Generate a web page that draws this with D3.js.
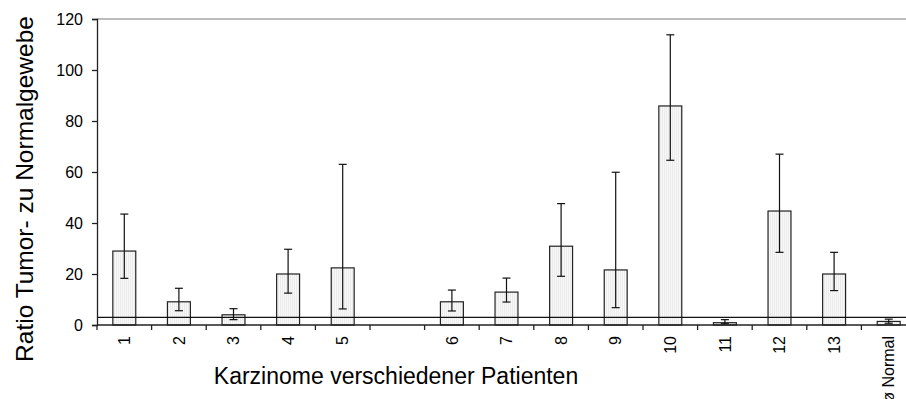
<!DOCTYPE html>
<html>
<head>
  <meta charset="utf-8">
  <title>Ratio Tumor- zu Normalgewebe</title>
  <script src="https://d3js.org/d3.v7.min.js"></script>
  <style>
    body { margin: 0; background: #fff; }
    text { font-family: "Liberation Sans", Arial, sans-serif; fill: #000; }
  </style>
</head>
<body>
  <script>
    // data ("" = empty slot between 5 and 6)
    var categories = ['1','2','3','4','5','','6','7','8','9','10','11','12','13','ø Normal'];
    var values   = [29, 9.1, 4.0, 20, 22.4, null, 9.1, 12.9, 30.9, 21.6, 85.9, 0.9, 44.7, 20, 1.4];
    var errHigh  = [43.5, 14.4, 6.4, 29.7, 63, null, 13.7, 18.4, 47.6, 59.9, 113.8, 2.1, 67, 28.5, 2.3];
    var errLow   = [18.3, 5.6, 2.1, 12.5, 6.3, null, 5.5, 9.0, 19.1, 6.8, 64.6, 0.5, 28.5, 13.5, 0.7];
    var yTicks   = [0, 20, 40, 60, 80, 100, 120];
    var refLine  = 3;

    var width = 906, height = 399;
    var plotLeft = 97, plotTop = 19, plotBottom = 325;
    var step = 54.6;
    var plotRight = plotLeft + step * categories.length;

    var svg = d3.select('body').append('svg')
      .attr('width', width)
      .attr('height', height);

    // fill of the bars: fine vertical stripes
    var pat = svg.append('defs').append('pattern')
      .attr('id', 'stripes')
      .attr('patternUnits', 'userSpaceOnUse')
      .attr('width', 2).attr('height', 4);
    pat.append('rect').attr('width', 2).attr('height', 4).attr('fill', '#f8f8f8');
    pat.append('rect').attr('width', 1).attr('height', 4).attr('fill', '#ebebeb');

    var x = d3.scaleBand()
      .domain(d3.range(categories.length))
      .range([plotLeft, plotRight])
      .paddingInner(0.58)
      .paddingOuter(0.29);

    var y = d3.scaleLinear()
      .domain([0, 120])
      .range([plotBottom, plotTop]);

    // top gridline
    svg.append('line')
      .attr('x1', plotLeft).attr('x2', plotRight)
      .attr('y1', y(120)).attr('y2', y(120))
      .attr('stroke', '#a6a6a6').attr('stroke-width', 1.3);

    var idx = d3.range(categories.length).filter(i => values[i] != null);

    // bars
    svg.selectAll('rect.bar')
      .data(idx)
      .enter().append('rect')
      .attr('class', 'bar')
      .attr('x', i => x(i))
      .attr('width', x.bandwidth())
      .attr('y', i => y(values[i]))
      .attr('height', i => y(0) - y(values[i]))
      .attr('fill', 'url(#stripes)')
      .attr('stroke', '#222')
      .attr('stroke-width', 1.2);

    // error bars
    var eb = svg.selectAll('g.err')
      .data(idx)
      .enter().append('g')
      .attr('class', 'err')
      .attr('stroke', '#111')
      .attr('stroke-width', 1.2);
    eb.append('line')
      .attr('x1', i => x(i) + x.bandwidth() / 2)
      .attr('x2', i => x(i) + x.bandwidth() / 2)
      .attr('y1', i => y(errHigh[i]))
      .attr('y2', i => y(errLow[i]));
    [errHigh, errLow].forEach(function(arr) {
      eb.append('line')
        .attr('x1', i => x(i) + x.bandwidth() / 2 - 4)
        .attr('x2', i => x(i) + x.bandwidth() / 2 + 4)
        .attr('y1', i => y(arr[i]))
        .attr('y2', i => y(arr[i]));
    });

    // reference line
    svg.append('line')
      .attr('x1', plotLeft).attr('x2', plotRight)
      .attr('y1', y(refLine)).attr('y2', y(refLine))
      .attr('stroke', '#111').attr('stroke-width', 1.3);

    // y axis
    var yAxis = svg.append('g')
      .attr('transform', 'translate(' + plotLeft + ',0)')
      .call(d3.axisLeft(y).tickValues(yTicks).tickSize(5).tickPadding(9));
    yAxis.select('.domain').attr('stroke', '#222').attr('stroke-width', 1.3);
    yAxis.selectAll('.tick line').attr('stroke', '#222').attr('stroke-width', 1.3);
    yAxis.selectAll('.tick text')
      .attr('font-size', 16)
      .attr('font-family', '"Liberation Sans", Arial, sans-serif')
      .attr('fill', '#000');

    // x axis: line, ticks between slots, rotated labels
    svg.append('line')
      .attr('x1', plotLeft).attr('x2', plotRight)
      .attr('y1', plotBottom).attr('y2', plotBottom)
      .attr('stroke', '#222').attr('stroke-width', 1.3);
    svg.selectAll('line.xtick')
      .data(d3.range(categories.length + 1))
      .enter().append('line')
      .attr('class', 'xtick')
      .attr('x1', k => plotLeft + step * k)
      .attr('x2', k => plotLeft + step * k)
      .attr('y1', plotBottom).attr('y2', plotBottom + 5)
      .attr('stroke', '#222').attr('stroke-width', 1.3);
    svg.selectAll('text.xlab')
      .data(d3.range(categories.length))
      .enter().append('text')
      .attr('class', 'xlab')
      .attr('transform', i => 'translate(' + (x(i) + x.bandwidth() / 2) + ',' + 336 + ') rotate(-90)')
      .attr('text-anchor', 'end')
      .attr('dy', '0.35em')
      .attr('font-size', 16)
      .text(i => categories[i]);

    // axis titles
    svg.append('text')
      .attr('x', 396).attr('y', 384)
      .attr('text-anchor', 'middle')
      .attr('font-size', 23)
      .text('Karzinome verschiedener Patienten');
    svg.append('text')
      .attr('transform', 'translate(24,189) rotate(-90)')
      .attr('text-anchor', 'middle')
      .attr('dy', '0.35em')
      .attr('font-size', 24.5)
      .text('Ratio Tumor- zu Normalgewebe');
  </script>
</body>
</html>
